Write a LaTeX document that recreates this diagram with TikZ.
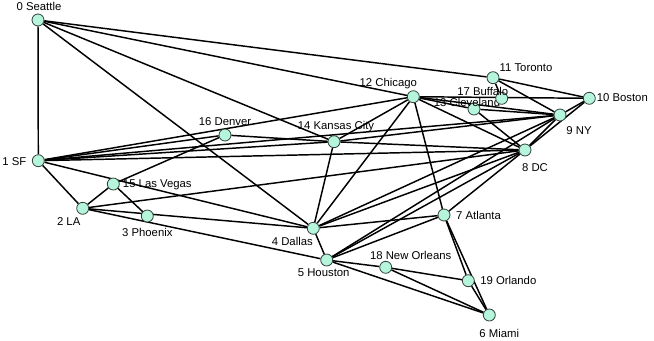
\documentclass[tikz,border=0pt]{standalone}
\usepackage{fontspec}
\setmainfont{Liberation Sans}
\usetikzlibrary{backgrounds}
\definecolor{mint}{HTML}{B4F5DC}
\definecolor{rim}{HTML}{33403B}

\tikzset{
  city/.style={circle, fill=mint, draw=rim, line width=0.6pt, minimum size=9pt, inner sep=0pt},
  road/.style={line width=1.1pt, black},
  every label/.style={font=\fontsize{8.5}{10}\selectfont, inner sep=0pt, anchor=center}
}

\begin{document}
\begin{tikzpicture}[x=0.75pt, y=-0.75pt]
\useasboundingbox (0,0) rectangle (654,340);

% cities
\node[city, label={[xshift=0.75pt, yshift=10.5pt]center:0 Seattle}] (sea) at (38,20) {};
\node[city, label={[xshift=-18pt, yshift=-0.75pt]center:1 SF}] (sf) at (38.3,160.7) {};
\node[city, label={[xshift=-10.5pt, yshift=-9.75pt]center:2 LA}] (la) at (82.7,208.3) {};
\node[city, label={[yshift=-12pt]center:3 Phoenix}] (phx) at (147.3,216) {};
\node[city, label={[xshift=-15.75pt, yshift=-9.75pt]center:4 Dallas}] (dal) at (313.3,228.3) {};
\node[city, label={[xshift=-2.25pt, yshift=-9.75pt]center:5 Houston}] (hou) at (326.7,260) {};
\node[city, label={[xshift=7.5pt, yshift=-13.5pt]center:6 Miami}] (mia) at (489.3,315) {};
\node[city, label={[xshift=25.9pt]center:7 Atlanta}] (atl) at (444,215) {};
\node[city, label={[xshift=7.5pt, yshift=-13.5pt]center:8 DC}] (dc) at (525,150) {};
\node[city, label={[xshift=14.25pt, yshift=-12pt]center:9 NY}] (ny) at (560,115) {};
\node[city, label={[xshift=24.75pt, yshift=0.75pt]center:10 Boston}] (bos) at (589.3,98.3) {};
\node[city, label={[xshift=24.75pt, yshift=7.5pt]center:11 Toronto}] (tor) at (493,77.7) {};
\node[city, label={[xshift=-18.75pt, yshift=9.75pt]center:12 Chicago}] (chi) at (413.3,96.7) {};
\node[city, label={[xshift=-5.25pt, yshift=5.25pt]center:13 Cleveland}] (cle) at (474,109) {};
\node[city, label={[xshift=1.5pt, yshift=11.25pt]center:14 Kansas City}] (kc) at (334,141.7) {};
\node[city, label={[xshift=33pt, yshift=-0.75pt]center:15 Las Vegas}] (lv) at (113.3,184) {};
\node[city, label={[yshift=9.75pt]center:16 Denver}] (den) at (225,135) {};
\node[city, label={[xshift=-14.25pt, yshift=5.25pt]center:17 Buffalo}] (buf) at (501.7,98.3) {};
\node[city, label={[xshift=18.75pt, yshift=9pt]center:18 New Orleans}] (nor) at (385.7,267.3) {};
\node[city, label={[xshift=30pt]center:19 Orlando}] (orl) at (468.3,280.7) {};

% roads
\begin{scope}[on background layer]
\draw[road] (sea) -- (sf);
\draw[road] (sea) -- (tor);
\draw[road] (sea) -- (chi);
\draw[road] (sea) -- (kc);
\draw[road] (sea) -- (dal);
\draw[road] (sf) -- (la);
\draw[road] (sf) -- (den);
\draw[road] (sf) -- (chi);
\draw[road] (sf) -- (ny);
\draw[road] (sf) -- (dc);
\draw[road] (sf) -- (kc);
\draw[road] (sf) -- (dal);
\draw[road] (la) -- (lv);
\draw[road] (la) -- (dc);
\draw[road] (la) -- (dal);
\draw[road] (la) -- (hou);
\draw[road] (phx) -- (lv);
\draw[road] (lv) -- (den);
\draw[road] (den) -- (kc);
\draw[road] (kc) -- (chi);
\draw[road] (kc) -- (dal);
\draw[road] (kc) -- (ny);
\draw[road] (kc) -- (dc);
\draw[road] (chi) -- (dal);
\draw[road] (chi) -- (atl);
\draw[road] (chi) -- (dc);
\draw[road] (chi) -- (ny);
\draw[road] (chi) -- (bos);
\draw[road] (chi) -- (cle);
\draw[road] (cle) -- (dc);
\draw[road] (cle) -- (ny);
\draw[road] (tor) -- (buf);
\draw[road] (tor) -- (ny);
\draw[road] (tor) -- (bos);
\draw[road] (bos) -- (ny);
\draw[road] (bos) -- (dc);
\draw[road] (ny) -- (dc);
\draw[road] (ny) -- (dal);
\draw[road] (ny) -- (hou);
\draw[road] (dc) -- (dal);
\draw[road] (dc) -- (hou);
\draw[road] (dc) -- (atl);
\draw[road] (dal) -- (hou);
\draw[road] (dal) -- (atl);
\draw[road] (hou) -- (atl);
\draw[road] (hou) -- (nor);
\draw[road] (hou) -- (mia);
\draw[road] (nor) -- (orl);
\draw[road] (nor) -- (mia);
\draw[road] (atl) -- (orl);
\draw[road] (atl) -- (mia);
\draw[road] (orl) -- (mia);
\end{scope}
\end{tikzpicture}
\end{document}
